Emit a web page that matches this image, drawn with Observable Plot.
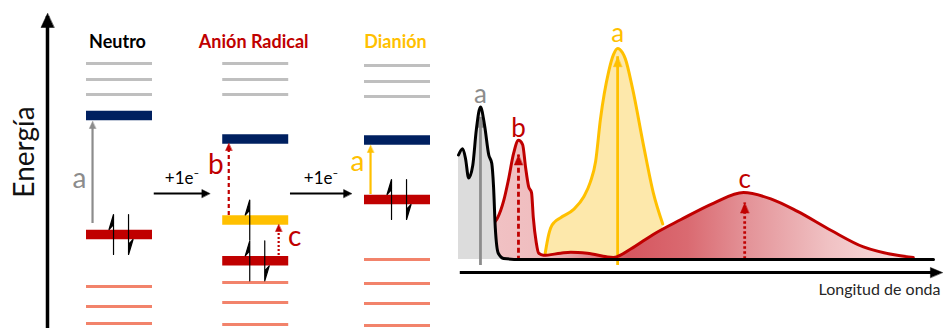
<!DOCTYPE html>
<html>
<head>
<meta charset="utf-8">
<script src="https://cdn.jsdelivr.net/npm/d3@7"></script>
<script src="https://cdn.jsdelivr.net/npm/@observablehq/plot@0.6"></script>
<style>
  html, body { margin: 0; padding: 0; background: #fff; }
  #wrap { position: relative; width: 943px; height: 328px; overflow: hidden; font-family: Lato, "Open Sans", sans-serif; }
  #wrap svg { position: absolute; top: 0; }
</style>
</head>
<body>
<div id="wrap"></div>
<script>
// ---------------- Energy-level diagram (arbitrary energy units, up = higher) ----------------
const states = ["Neutro", "Anión Radical", "Dianión"];
const statePos = [0, 0.98, 2];
const upperLevels = [[265, 249, 234], [265, 249, 234], [263, 247, 232]];
const lumo = [213, 189.5, 188.5];
const somo = [null, 108.5, null];
const homo = [94, 67.7, 129];
const lowerLevels = [[42, 22, 5], [46, 26, 4], [69, 45, 25, 3]];
const somoElectrons = [0, 1, 0];
const homoElectrons = [2, 2, 2];
const reductionLabel = ["+1e⁻", "+1e⁻"];
const reductionEnergy = 135;
const reductionLabelEnergy = 145;

// transitions in the diagram
const transLabel = ["a", "b", "c", "a"];
const transState = [0, 1, 1, 2];
const transFrom = [105, 113, 73, 134];
const transTo = [207, 185, 104, 183];
const transLabelEnergy = [141, 155, 83, 158];
const transSide = ["left", "left", "right", "left"];

// ---------------- Absorption spectra (wavelength, absorbance) ----------------
const wlNeutro = [300, 307, 312, 317, 324, 330, 337, 344, 351, 356, 359, 362, 367, 376, 404, 1100];
const absNeutro = [0.50, 0.53, 0.48, 0.39, 0.45, 0.62, 0.73, 0.64, 0.50, 0.46, 0.35, 0.15, 0.03, 0.005, 0, 0];

const wlRadical = [350, 359, 366, 376, 384, 393, 401, 408, 413, 418, 423, 426, 431, 435, 443, 472, 489, 517, 561, 590, 628, 674, 730, 780, 826, 871, 927, 982, 1039, 1066];
const absRadical = [0.12, 0.17, 0.20, 0.28, 0.38, 0.51, 0.57, 0.55, 0.44, 0.35, 0.32, 0.20, 0.08, 0.03, 0.02, 0.03, 0.035, 0.03, 0.01, 0.05, 0.12, 0.19, 0.27, 0.32, 0.29, 0.23, 0.14, 0.06, 0.02, 0.01];

const wlDianion = [446, 452, 455, 462, 472, 494, 511, 522, 531, 539, 553, 561, 568, 576, 581, 593, 612, 628, 644];
const absDianion = [0.03, 0.12, 0.15, 0.18, 0.20, 0.24, 0.30, 0.37, 0.47, 0.67, 0.90, 0.98, 1.01, 0.99, 0.96, 0.82, 0.54, 0.32, 0.17];

const bandLabel = ["a", "b", "a", "c"];
const bandWl = [337, 401, 568, 782];
const bandFrom = [0, 0.02, 0, 0.03];
const bandTo = [0.68, 0.50, 0.97, 0.27];
const bandLabelAbs = [0.75, 0.585, 1.04, 0.34];
const axisLabel = "Longitud de onda";
const energyLabel = "Energía";

// ---------------- styles ----------------
const C = { gray: "#bfbfbf", salmon: "#f2836b", navy: "#002060", red: "#c00000", yellow: "#ffc000", tgray: "#8c8c8c" };
const stateColor = ["#000000", C.red, C.yellow];
const transColor = [C.tgray, C.red, C.red, C.yellow];
const transDash = [null, "4,3", "2,2", null];
const bandColor = [C.tgray, C.red, C.yellow, C.red];
const bandDash = [null, "5,3", null, "2.5,2.5"];
const hw = 0.2374;

const head = { draw(ctx, l, r) { ctx.moveTo(0, -l); ctx.lineTo(-r, 0); ctx.lineTo(r, 0); ctx.closePath(); } };
const harpoon = { draw(ctx, l) { ctx.moveTo(0, 0); ctx.lineTo(0, -l); ctx.lineTo(-4.5, -l + 15); ctx.lineTo(0, -l + 10); } };

// build rows
const thinUpper = [], thinLower = [], lumoRows = [], somoRows = [], homoRows = [], electrons = [];
states.forEach((s, i) => {
  upperLevels[i].forEach(E => thinUpper.push({ i, E }));
  lowerLevels[i].forEach(E => thinLower.push({ i, E }));
  lumoRows.push({ i, E: lumo[i] });
  if (somo[i] != null) somoRows.push({ i, E: somo[i] });
  homoRows.push({ i, E: homo[i] });
  for (let k = 0; k < somoElectrons[i]; k++) electrons.push({ i, E: somo[i], spin: k === 0 ? "up" : "down" });
  for (let k = 0; k < homoElectrons[i]; k++) electrons.push({ i, E: homo[i], spin: k === 0 ? "up" : "down" });
});
const trans = transLabel.map((label, k) => ({
  label, k, i: transState[k], from: transFrom[k], to: transTo[k], lab: transLabelEnergy[k], side: transSide[k]
}));
const transX = d => statePos[d.i] + (d.side === "left" ? -0.194 : 0.165);
const reductions = reductionLabel.map((label, k) => ({ label, k, x1: statePos[k] + 0.25, x2: statePos[k + 1] - 0.33 }));

const levelMarks = (rows, stroke, w) => Plot.ruleY(rows, {
  y: "E", x1: d => statePos[d.i] - hw, x2: d => statePos[d.i] + hw, stroke, strokeWidth: w
});

const left = Plot.plot({
  width: 460, height: 328, margin: 0,
  x: { domain: [0, 2], range: [119, 397], axis: null },
  y: { domain: [0, 328], range: [328, 0], axis: null },
  style: { overflow: "visible", background: "transparent", fontFamily: "Lato, sans-serif" },
  marks: [
    // energy axis
    Plot.ruleX([0], { x: () => -0.518, y1: () => 0, y2: () => 312, stroke: "black", strokeWidth: 3.5 }),
    Plot.vector([0], { x: () => -0.518, y: () => 315, length: 14, r: 6.5, anchor: "end", shape: head, fill: "black", stroke: "black", strokeWidth: 0.5 }),
    Plot.text([energyLabel], { x: () => -0.683, y: () => 176.5, text: d => d, rotate: -90, fontSize: 28, fontWeight: 400, fill: "#111", textAnchor: "middle", lineAnchor: "middle" }),
    // titles
    Plot.text(states, { x: (d, i) => statePos[i], y: () => 281, text: d => d, dx: -2, fontSize: 18, fontWeight: 700, fill: (d, i) => stateColor[i], lineAnchor: "bottom", textAnchor: "middle" }),
    // levels
    levelMarks(thinUpper, C.gray, 3),
    levelMarks(thinLower, C.salmon, 3),
    levelMarks(lumoRows, C.navy, 9.5),
    levelMarks(somoRows, C.yellow, 9.5),
    levelMarks(homoRows, C.red, 9.5),
    // reduction arrows
    Plot.ruleY(reductions, { y: () => reductionEnergy, x1: "x1", x2: d => d.x2 - 0.03, stroke: "black", strokeWidth: 1.8 }),
    Plot.vector(reductions, { x: "x2", y: () => reductionEnergy, rotate: 90, length: 8, r: 4, anchor: "end", shape: head, fill: "black", stroke: "black", strokeWidth: 0.5 }),
    Plot.text(reductions, { x: d => (d.x1 + d.x2) / 2, y: () => reductionLabelEnergy, text: "label", fontSize: 17, fill: "black", lineAnchor: "bottom", textAnchor: "middle" }),
    // transitions
    trans.map(d => [
      Plot.ruleX([d], { x: transX, y1: "from", y2: t => t.to - 5, stroke: transColor[d.k], strokeWidth: 2.2, strokeDasharray: transDash[d.k] }),
      Plot.vector([d], { x: transX, y: "to", length: 7, r: 3.2, anchor: "end", shape: head, fill: transColor[d.k], stroke: transColor[d.k], strokeWidth: 0.5 }),
      Plot.text([d], { x: transX, y: "lab", text: "label", dx: d.side === "left" ? -13 : 16, fontSize: 28, fill: transColor[d.k], lineAnchor: "bottom", textAnchor: "middle" })
    ]),
    // electrons
    Plot.vector(electrons, { x: d => statePos[d.i] + (d.spin === "up" ? -0.043 : 0.065), y: "E", length: 40, rotate: d => d.spin === "up" ? 0 : 180, anchor: "middle", shape: harpoon, stroke: "black", fill: "black", strokeWidth: 1.2 })
  ]
});

// ---------------- spectrum ----------------
const neutro = wlNeutro.map((wl, i) => ({ wl, A: absNeutro[i] }));
const radical = wlRadical.map((wl, i) => ({ wl, A: absRadical[i] }));
const dianion = wlDianion.map((wl, i) => ({ wl, A: absDianion[i] }));
const bands = bandLabel.map((label, k) => ({ label, k, wl: bandWl[k], from: bandFrom[k], to: bandTo[k], lab: bandLabelAbs[k] }));

const gradientDefs = () => {
  const ns = "http://www.w3.org/2000/svg";
  const defs = document.createElementNS(ns, "defs");
  const g = document.createElementNS(ns, "linearGradient");
  g.setAttribute("id", "redFill");
  [[0, "#f1c2c4"], [0.15, "#efbcbe"], [0.33, "#d5565f"], [0.47, "#da6a71"], [0.62, "#e4959a"], [0.8, "#f0c1c3"], [1, "#f9e3e3"]].forEach(([o, c]) => {
    const s = document.createElementNS(ns, "stop");
    s.setAttribute("offset", o); s.setAttribute("stop-color", c); g.appendChild(s);
  });
  defs.appendChild(g);
  return defs;
};

const right = Plot.plot({
  width: 488, height: 328,
  marginTop: 0, marginLeft: 0, marginRight: 3, marginBottom: 34,
  x: { domain: [300, 1100], range: [3, 478], axis: null },
  y: { domain: [0, 1], range: [259, 50], axis: null },
  style: { overflow: "visible", background: "transparent", fontFamily: "Lato, sans-serif" },
  marks: [
    gradientDefs,
    Plot.areaY(dianion, { x: "wl", y: "A", fill: "#fde8ab", curve: "monotone-x" }),
    Plot.areaY(radical, { x: "wl", y: "A", fill: "url(#redFill)", curve: "monotone-x" }),
    bands.filter(d => d.k !== 0).map(d => [
      Plot.ruleX([d], { x: "wl", y1: "from", y2: "to", insetTop: 6, stroke: bandColor[d.k], strokeWidth: 2.8, strokeDasharray: bandDash[d.k] }),
      Plot.vector([d], { x: "wl", y: "to", length: 10, r: 4.2, anchor: "end", shape: head, fill: bandColor[d.k], stroke: bandColor[d.k], strokeWidth: 0.5 })
    ]),
    Plot.line(dianion, { x: "wl", y: "A", stroke: C.yellow, strokeWidth: 3, curve: "monotone-x" }),
    Plot.line(radical, { x: "wl", y: "A", stroke: C.red, strokeWidth: 3, curve: "monotone-x" }),
    Plot.areaY(neutro, { x: "wl", y: "A", fill: "#dcdcdc", curve: "monotone-x" }),
    bands.filter(d => d.k === 0).map(d => [
      Plot.ruleX([d], { x: "wl", y1: "from", y2: "to", insetTop: 6, stroke: bandColor[d.k], strokeWidth: 2.8 }),
      Plot.vector([d], { x: "wl", y: "to", length: 10, r: 4.2, anchor: "end", shape: head, fill: bandColor[d.k], stroke: bandColor[d.k], strokeWidth: 0.5 })
    ]),
    Plot.line(neutro, { x: "wl", y: "A", stroke: "black", strokeWidth: 3, curve: "monotone-x" }),
    bands.map(d => Plot.text([d], { x: "wl", y: "lab", text: "label", fontSize: 26, fill: bandColor[d.k], lineAnchor: "bottom", textAnchor: "middle" })),
    // wavelength axis
    Plot.ruleY([0], { y: () => -0.0622, x1: () => 303, x2: () => 1100, stroke: "black", strokeWidth: 3 }),
    Plot.vector([0], { x: () => 1115, y: () => -0.0622, rotate: 90, length: 12, r: 5, anchor: "end", shape: head, fill: "black", stroke: "black", strokeWidth: 0.5 }),
    Plot.text([axisLabel], { frameAnchor: "bottom-right", text: d => d, fontSize: 16, fill: "#262626", lineAnchor: "bottom", textAnchor: "end" })
  ]
});

const wrap = document.getElementById("wrap");
left.style.left = "0px";
right.style.left = "455px";
wrap.appendChild(left);
wrap.appendChild(right);
</script>
</body>
</html>
